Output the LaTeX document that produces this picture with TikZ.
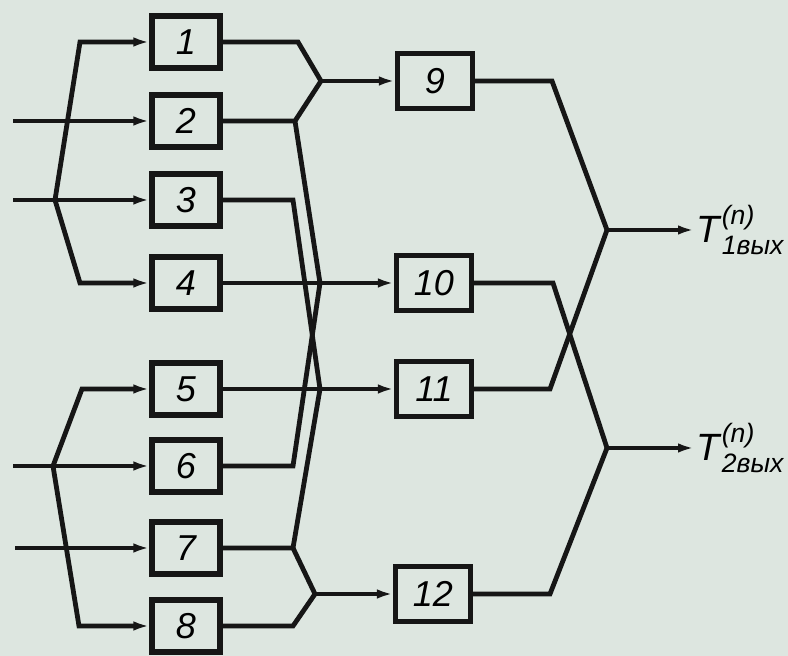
\documentclass[tikz,border=0pt]{standalone}
\usepackage{amsmath}
\usepackage{fontspec}
\setmainfont{Liberation Sans}
\usetikzlibrary{arrows.meta}
\definecolor{paper}{RGB}{221,230,224}
\definecolor{ink}{RGB}{22,22,22}

\begin{document}
\begin{tikzpicture}[x=0.5pt, y=-0.5pt,
  blk/.style={draw=ink, line width=2.6pt, minimum width=34pt, minimum height=26pt,
    inner sep=0pt, font=\fontsize{18}{20}\selectfont\itshape},
  blkw/.style={blk, minimum width=37.5pt, minimum height=27.5pt},
  wire/.style={draw=ink, line width=2.4pt},
  arr/.style={wire, -{Latex[length=8pt,width=4.8pt]}},
  lbl/.style={anchor=west, inner sep=1pt, font=\fontsize{19}{22}\selectfont}]
\useasboundingbox (0,0) rectangle (788,656);
\fill[paper] (0,0) rectangle (788,656);
% first column
\node[blk] (b1) at (186,42) {1};
\node[blk] (b2) at (186,121) {2};
\node[blk] (b3) at (186,200) {3};
\node[blk] (b4) at (186,283) {4};
\node[blk] (b5) at (186,389) {5};
\node[blk] (b6) at (186,466) {6};
\node[blk] (b7) at (186,548) {7};
\node[blk] (b8) at (186,626) {8};
% second column
\node[blkw] (b9) at (435,81) {9};
\node[blkw] (b10) at (434,283) {10};
\node[blkw] (b11) at (434,389) {11};
\node[blkw] (b12) at (433,594) {12};
% input points and branches
\coordinate (in1) at (13,121);
\coordinate (in2) at (13,200);
\coordinate (in3) at (13,466);
\coordinate (in4) at (15,548);
\coordinate (s1) at (55,200);
\coordinate (s2) at (53,466);
\coordinate (k1) at (80,42);
\coordinate (k4) at (80,283);
\coordinate (k5) at (82,389);
\coordinate (k8) at (79,626);
% corners and junctions between the columns
\coordinate (c1) at (298,42);
\coordinate (c2) at (295,121);
\coordinate (c3) at (293,200);
\coordinate (c6) at (293,466);
\coordinate (c7) at (293,548);
\coordinate (c8) at (293,626);
\coordinate (j9) at (321,81);
\coordinate (j10) at (320,283);
\coordinate (j11) at (320,389);
\coordinate (j12) at (315,594);
% output side
\coordinate (c9) at (552,81);
\coordinate (c10) at (553,283);
\coordinate (c11) at (550,389);
\coordinate (c12) at (550,594);
\coordinate (o1) at (607,230);
\coordinate (o2) at (607,448);
\node[lbl] (t1) at (694,230) {\textit{T}$^{\textit{(n)}}_{\textit{1вых}}$};
\node[lbl] (t2) at (694,448) {\textit{T}$^{\textit{(n)}}_{\textit{2вых}}$};

\draw[arr] (in1) -- (b2);
\draw[wire] (in2) -- (s1);
\draw[arr] (s1) -- (b3);
\draw[arr] (s1) -- (k1) -- (b1);
\draw[arr] (s1) -- (k4) -- (b4);
\draw[wire] (in3) -- (s2);
\draw[arr] (s2) -- (b6);
\draw[arr] (s2) -- (k5) -- (b5);
\draw[arr] (s2) -- (k8) -- (b8);
\draw[arr] (in4) -- (b7);

\draw[wire] (b1) -- (c1) -- (j9);
\draw[wire] (b2) -- (c2) -- (j9);
\draw[wire] (c2) -- (j10);
\draw[wire] (b3) -- (c3) -- (j11);
\draw[wire] (b4) -- (j10);
\draw[wire] (b5) -- (j11);
\draw[wire] (b6) -- (c6) -- (j10);
\draw[wire] (b7) -- (c7) -- (j11);
\draw[wire] (c7) -- (j12);
\draw[wire] (b8) -- (c8) -- (j12);
\draw[arr] (j9) -- (b9);
\draw[arr] (j10) -- (b10);
\draw[arr] (j11) -- (b11);
\draw[arr] (j12) -- (b12);

\draw[wire] (b9) -- (c9) -- (o1);
\draw[wire] (b11) -- (c11) -- (o1);
\draw[wire] (b10) -- (c10) -- (o2);
\draw[wire] (b12) -- (c12) -- (o2);
\draw[arr] (o1) -- (t1.west);
\draw[arr] (o2) -- (t2.west);
\end{tikzpicture}
\end{document}
